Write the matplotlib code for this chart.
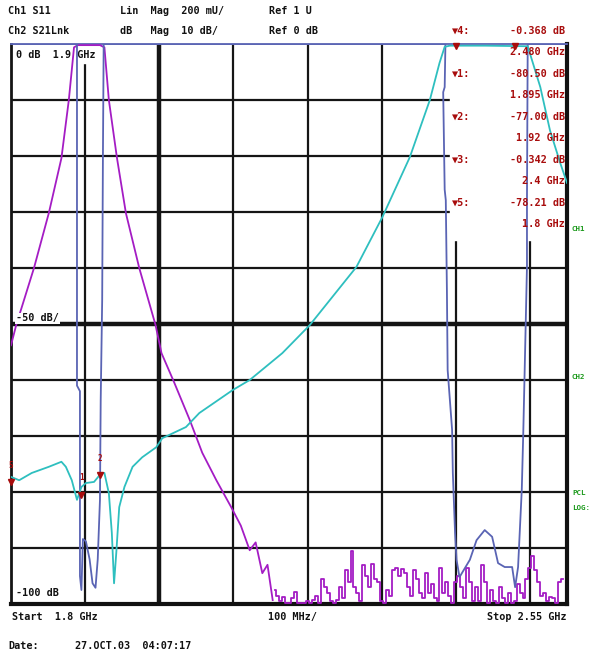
import matplotlib
matplotlib.use("Agg")
import matplotlib.pyplot as plt
import numpy as np

# ---- data (frequency in GHz, level in dB) ----
s21_freq = [1.800, 1.807, 1.831, 1.851, 1.868, 1.878, 1.885, 1.890, 1.920, 1.926,
            1.932, 1.943, 1.955, 1.973, 1.995, 2.003, 2.020, 2.041, 2.058, 2.077,
            2.097, 2.110, 2.122, 2.130, 2.139, 2.146, 2.153]
s21_db = [-53.8, -50.2, -40.0, -30.2, -20.4, -10.0, -0.6, -0.2, -0.2, -0.6,
          -10.0, -20.4, -30.2, -40.0, -50.2, -55.2, -60.4, -67.1, -73.0, -77.9,
          -82.7, -86.0, -90.4, -89.0, -94.5, -93.0, -99.3]
# noise floor of the same trace, 2.156 .. 2.544 GHz
s21_noise = [-97.5, -98.5, -99.5, -98.8, -99.8, -99.8, -99.0, -97.8, -99.8, -99.8,
             -99.8, -99.5, -99.8, -99.2, -98.5, -99.8, -95.5, -97.0, -98.0, -99.5,
             -99.8, -99.2, -97.0, -99.0, -94.0, -96.0, -90.5, -97.0, -98.0, -99.5,
             -93.0, -95.0, -97.0, -92.8, -95.5, -96.0, -99.5, -99.8, -97.5, -98.5,
             -94.0, -93.5, -95.0, -93.8, -94.5, -97.0, -98.5, -94.0, -95.5, -98.0,
             -99.0, -94.5, -98.0, -96.5, -99.0, -99.5, -93.5, -98.0, -96.0, -98.5,
             -99.8, -96.0, -95.0, -97.0, -99.0, -93.5, -96.0, -99.5, -97.0, -99.5,
             -93.0, -96.0, -99.8, -97.5, -99.5, -99.8, -97.0, -99.0, -99.8, -98.0,
             -99.8, -99.5, -96.5, -98.0, -99.0, -95.5, -93.5, -91.5, -94.0, -96.0,
             -98.5, -98.0, -99.5, -98.8, -99.0, -99.8, -96.0, -95.5]

cyan_freq = [1.800, 1.811, 1.828, 1.851, 1.868, 1.874, 1.882, 1.889, 1.895, 1.901,
             1.912, 1.922, 1.926, 1.932, 1.936, 1.939, 1.942, 1.946, 1.953, 1.964,
             1.977, 1.996, 2.004, 2.036, 2.054, 2.099, 2.122, 2.166, 2.203, 2.266,
             2.301, 2.338, 2.365, 2.378, 2.385, 2.392, 2.440, 2.497, 2.514, 2.527,
             2.541, 2.550]
cyan_db = [-77.3, -77.9, -76.6, -75.5, -74.6, -75.5, -77.9, -81.4, -79.1, -78.4,
           -78.2, -76.6, -76.6, -80.2, -87.3, -96.3, -90.9, -82.7, -79.1, -75.5,
           -73.8, -72.0, -70.4, -68.4, -65.9, -61.8, -60.0, -55.2, -50.2, -39.8,
           -30.9, -20.2, -10.0, -3.4, -0.5, -0.3, -0.3, -0.4, -7.7, -15.4,
           -21.3, -24.8]

blue_freq = [1.800, 1.889, 1.889, 1.893, 1.893, 1.895, 1.897, 1.901, 1.906, 1.910,
             1.914, 1.917, 1.920, 1.921, 1.923, 1.924, 1.925, 2.386, 2.385, 2.383,
             2.385, 2.3865, 2.388, 2.389, 2.395, 2.396, 2.399, 2.401, 2.405, 2.419,
             2.428, 2.439, 2.449, 2.457, 2.466, 2.476, 2.480, 2.484, 2.489, 2.491,
             2.493, 2.496, 2.496, 2.497, 2.550]
blue_db = [0.0, 0.0, -61.0, -62.0, -95.0, -97.5, -88.4, -88.8, -92.0, -96.3,
           -97.1, -92.0, -81.4, -63.6, -45.7, -20.0, 0.0, 0.0, -7.7, -8.6,
           -26.0, -27.9, -43.9, -58.2, -68.9, -76.6, -87.3, -92.1, -95.2, -92.1,
           -88.6, -86.8, -88.0, -92.7, -93.4, -93.4, -97.0, -93.4, -79.6, -69.5,
           -57.7, -39.8, -27.9, 0.0, 0.0]

marker_ids = ["5", "1", "2", "3", "4"]
marker_freq = [1.800, 1.895, 1.920, 2.400, 2.480]
marker_db = [-78.21, -80.50, -77.00, -0.342, -0.368]

readout = [("4", "-0.368 dB", "2.480 GHz"),
           ("1", "-80.50 dB", "1.895 GHz"),
           ("2", "-77.00 dB", "1.92 GHz"),
           ("3", "-0.342 dB", "2.4 GHz"),
           ("5", "-78.21 dB", "1.8 GHz")]

W, H = 591, 656
PURPLE = "#a41cc4"
CYAN = "#2ebfbf"
BLUE = "#5a64b4"
RED = "#a80c0c"
GREEN = "#1d9a1d"
MONO = ["DejaVu Sans Mono", "DejaVu Sans"]
FS = 7.3

fig = plt.figure(figsize=(W / 100, H / 100), dpi=100)
fig.patch.set_facecolor("white")


def px(x, y):
    return x / W, 1 - y / H


def ftext(x, y, s, **kw):
    kw.setdefault("fontsize", FS)
    kw.setdefault("color", "#111111")
    kw.setdefault("fontweight", "bold")
    kw.setdefault("family", MONO)
    kw.setdefault("va", "center")
    fig.text(*px(x, y), s, **kw)


left, right, top, bottom = 11, 567, 44, 604
ax = fig.add_axes([left / W, 1 - bottom / H, (right - left) / W, (bottom - top) / H])
ax.set_xlim(1.8, 2.55)
ax.set_ylim(-100, 0)
ax.set_xticks([])
ax.set_yticks([])

# graticule
for f in [1.9, 2.0, 2.1, 2.2, 2.3, 2.4, 2.5]:
    ax.axvline(f, color="#151515", lw=3.2 if f == 2.0 else 1.6, zorder=1)
for d in range(-90, 0, 10):
    ax.axhline(d, color="#151515", lw=3.2 if d == -50 else 1.6, zorder=1)

ax.spines["left"].set_color("#151515")
ax.spines["left"].set_linewidth(2)
for side in ["right", "bottom"]:
    ax.spines[side].set_color("#111111")
    ax.spines[side].set_linewidth(3)
ax.spines["top"].set_color(BLUE)
ax.spines["top"].set_linewidth(1.3)

# white label areas that hide the graticule
ax.add_patch(plt.Rectangle((2.392, -35), 0.158, 35, color="white", zorder=2))
ax.add_patch(plt.Rectangle((1.8, -3.4), 0.126, 3.4, color="white", zorder=2))

ax.plot(s21_freq, s21_db, color=PURPLE, lw=1.3, zorder=3)
noise_f = np.linspace(2.156, 2.544, len(s21_noise))
ax.plot(noise_f, s21_noise, color=PURPLE, lw=1.3, drawstyle="steps-mid", zorder=3)
ax.plot(blue_freq, blue_db, color=BLUE, lw=1.3, zorder=4)
ax.plot(cyan_freq, cyan_db, color=CYAN, lw=1.3, zorder=5)

for mid, mf, md in zip(marker_ids, marker_freq, marker_db):
    ax.plot(mf, md, marker="v", ms=5, color=RED, zorder=6, clip_on=False)
    if md < -10:
        ax.text(mf, md + 2.2, mid, color=RED, fontsize=5.5, ha="center",
                va="bottom", family=MONO, fontweight="bold", zorder=6)

ax.text(1.807, -1.9, "0 dB  1.9 GHz", fontsize=FS, fontweight="bold",
        family=MONO, va="center", color="#111111", zorder=7)
ax.text(1.807, -49.0, "-50 dB/", fontsize=FS, fontweight="bold", family=MONO,
        va="center", color="#111111", zorder=7,
        bbox=dict(facecolor="white", edgecolor="none", pad=0.5))
ax.text(1.807, -98.0, "-100 dB", fontsize=FS, fontweight="bold", family=MONO,
        va="center", color="#111111", zorder=7,
        bbox=dict(facecolor="white", edgecolor="none", pad=0.5))

# header lines
ftext(8, 11, "Ch1 S11")
ftext(120, 11, "Lin  Mag  200 mU/")
ftext(269, 11, "Ref 1 U")
ftext(8, 31, "Ch2 S21Lnk")
ftext(120, 31, "dB   Mag  10 dB/")
ftext(269, 31, "Ref 0 dB")

# marker readout
for i, (mid, lvl, frq) in enumerate(readout):
    y0 = 31 + i * 43
    ftext(452, y0, "\u25bc" + mid + ":", color=RED)
    ftext(565, y0, lvl, color=RED, ha="right")
    ftext(565, y0 + 21, frq, color=RED, ha="right")

# right side channel tags
ftext(572, 229, "CH1", color=GREEN, fontsize=5.4)
ftext(572, 377, "CH2", color=GREEN, fontsize=5.4)
ftext(572, 493, "PCL", color=GREEN, fontsize=5.4)
ftext(572, 508, "LOG:", color=GREEN, fontsize=5.4)

# footer
ftext(12, 617, "Start  1.8 GHz")
ftext(268, 617, "100 MHz/")
ftext(567, 617, "Stop 2.55 GHz", ha="right")
ftext(8, 646, "Date:")
ftext(75, 646, "27.OCT.03  04:07:17")

fig.savefig("out.png", dpi=100)
